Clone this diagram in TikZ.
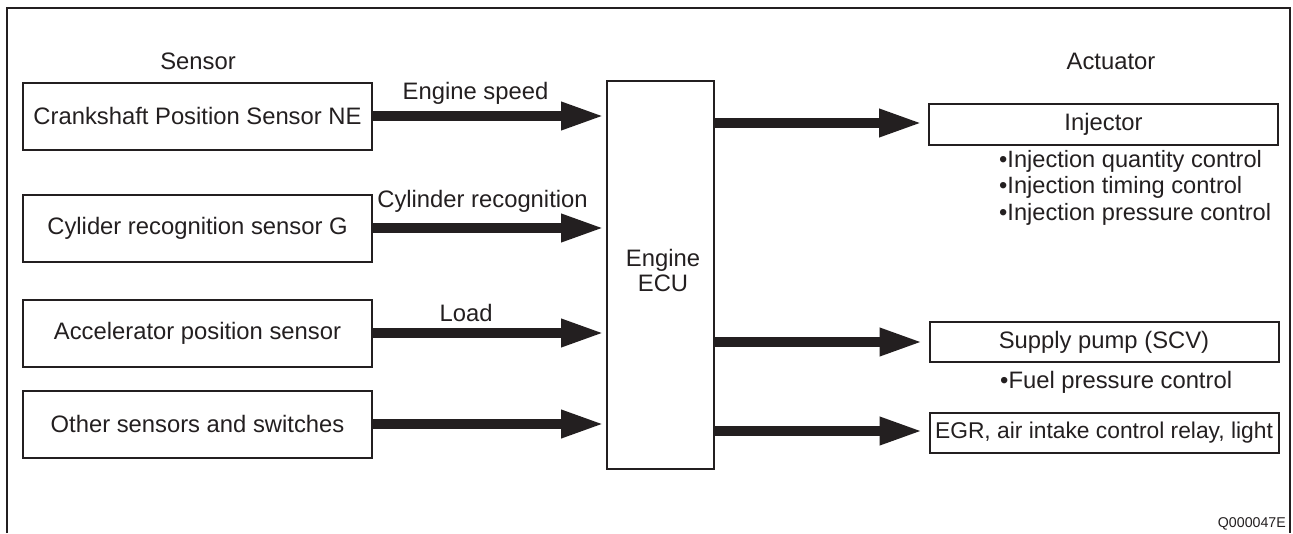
\documentclass[tikz,border=0pt]{standalone}
\usepackage{fontspec}
\setmainfont{Liberation Sans}
\usetikzlibrary{arrows.meta,calc}
\definecolor{ink}{HTML}{231F20}
\begin{document}
\begin{tikzpicture}[x=1pt,y=-1pt,
  every node/.style={text=ink,font=\fontsize{23.8}{28}\selectfont},
  box/.style={draw=ink,line width=2pt,inner sep=0pt,minimum width=349pt},
  sbox/.style={box,minimum height=67pt},
  abox/.style={box,minimum height=40pt},
  bigarrow/.style={draw=ink,line width=9.5pt,-{Triangle[length=43pt,width=26pt]}},
  lbl/.style={inner sep=0pt},
  frame/.style={draw=ink,line width=2.5pt}]
\useasboundingbox (0,0) rectangle (1293,533);
\draw[frame] (7,533) -- (7,8) -- (1290,8) -- (1290,533);

\node[lbl] (hs) at (198,61) {Sensor};
\node[lbl] (ha) at (1111,61) {Actuator};

\node[sbox] (s1) at (197.5,116) {Crankshaft Position Sensor NE};
\node[sbox] (s2) at (197.5,228) {Cylider recognition sensor G};
\node[sbox] (s3) at (197.5,333) {Accelerator position sensor};
\node[sbox] (s4) at (197.5,424) {Other sensors and switches};

\node[draw=ink,line width=2pt,inner sep=0pt,minimum width=107pt,minimum height=388pt] (ecu) at (660.5,275) {};
\node[lbl,align=center,font=\fontsize{23.8}{25}\selectfont] (ecut) at (663,270) {Engine\\ECU};

\node[box,minimum height=41pt] (inj) at (1103.5,124.5) {Injector};
\node[abox] (sup) at (1104,342) {Supply pump (SCV)};
\node[abox,font=\fontsize{22.8}{26}\selectfont] (egr) at (1104,433) {EGR, air intake control relay, light};

\node[lbl,anchor=west,align=left,font=\fontsize{23.6}{26.5}\selectfont] (injl) at (999,187.5) {•Injection quantity control\\•Injection timing control\\•Injection pressure control};
\node[lbl,anchor=west] (fuel) at (1000,382) {•Fuel pressure control};

\draw[bigarrow,shorten >=2pt] (s1.east) -- (s1.east -| ecu.west) node[lbl,pos=0.44,above=7pt] (l1) {Engine speed};
\draw[bigarrow,shorten >=2pt] (s2.east) -- (s2.east -| ecu.west) node[lbl,pos=0.47,above=11pt] (l2) {Cylinder recognition};
\draw[bigarrow,shorten >=2pt] (s3.east) -- (s3.east -| ecu.west) node[lbl,pos=0.4,above=7pt] (l3) {Load};
\draw[bigarrow,shorten >=2pt] (s4.east) -- (s4.east -| ecu.west);

\draw[bigarrow,shorten >=6pt] ($(ecu.east |- inj.west)+(0,-1.5)$) -- ($(inj.west)+(0,-1.5)$);
\draw[bigarrow,shorten >=6pt] (ecu.east |- sup.west) -- (sup.west);
\draw[bigarrow,shorten >=6pt] ($(ecu.east |- egr.west)+(0,-2)$) -- ($(egr.west)+(0,-2)$);

\node[lbl,anchor=east,font=\fontsize{14.2}{16}\selectfont] (code) at (1286,524) {Q000047E};
\end{tikzpicture}
\end{document}
